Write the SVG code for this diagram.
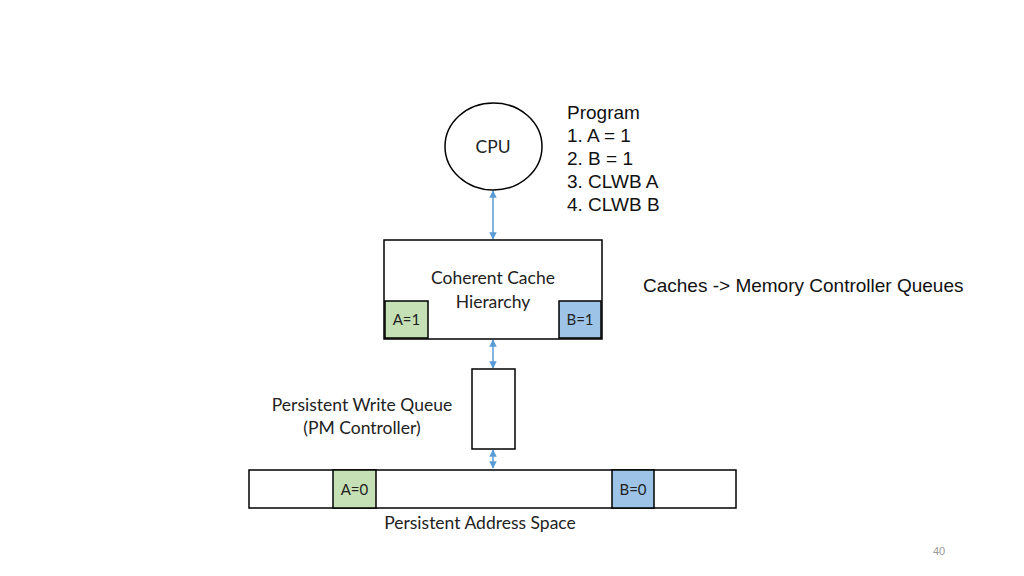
<svg xmlns="http://www.w3.org/2000/svg" width="1024" height="576" viewBox="0 0 1024 576">
<style>
.box{fill:#fff;stroke:#000;stroke-width:1.5}
.g{fill:#c5e0b4;stroke:#000;stroke-width:1.5}
.b{fill:#9dc3e6;stroke:#000;stroke-width:1.5}
.c{font-family:Lato,"Open Sans",sans-serif;font-size:17.5px;fill:#222}
.s{font-size:15px}
.a{font-family:"Liberation Sans",Arial,sans-serif;font-size:19px;fill:#111}
.conn{stroke:#5b9bd5;stroke-width:1.5;fill:none;marker-start:url(#ah);marker-end:url(#ah)}
</style>
<defs>
<marker id="ah" viewBox="0 0 10 10" refX="9" refY="5" markerWidth="5" markerHeight="5" orient="auto-start-reverse">
<path d="M0,0 L10,5 L0,10 z" fill="#5b9bd5"/>
</marker>
</defs>
<rect width="1024" height="576" fill="#fff"/>
<g id="connectors">
<line class="conn" x1="493" y1="191" x2="493" y2="239"/>
<line class="conn" x1="493" y1="340" x2="493" y2="368"/>
<line class="conn" x1="493" y1="450" x2="493" y2="468"/>
</g>
<g id="cpu">
<ellipse cx="493.5" cy="146.5" rx="48.5" ry="43.5" class="box"/>
<text x="493" y="153" text-anchor="middle" class="c">CPU</text>
</g>
<g id="program">
<text class="a" x="567" y="119">Program</text>
<text class="a" x="567" y="142">1. A = 1</text>
<text class="a" x="567" y="165">2. B = 1</text>
<text class="a" x="567" y="188">3. CLWB A</text>
<text class="a" x="567" y="211">4. CLWB B</text>
</g>
<g id="cache">
<rect x="384" y="240" width="218" height="99" class="box"/>
<text x="493" y="284" text-anchor="middle" class="c">Coherent Cache</text>
<text x="493" y="308" text-anchor="middle" class="c">Hierarchy</text>
</g>
<g id="cacheA">
<rect x="385" y="301" width="43" height="37" class="g"/>
<text x="406.5" y="325" text-anchor="middle" class="c s">A=1</text>
</g>
<g id="cacheB">
<rect x="559" y="301" width="42" height="37" class="b"/>
<text x="580" y="325" text-anchor="middle" class="c s">B=1</text>
</g>
<g id="note">
<text class="a" x="643" y="292">Caches -&gt; Memory Controller Queues</text>
</g>
<g id="queue">
<rect x="472" y="369" width="43" height="80" class="box"/>
<text x="362" y="411" text-anchor="middle" class="c">Persistent Write Queue</text>
<text x="362" y="434" text-anchor="middle" class="c">(PM Controller)</text>
</g>
<g id="pmem">
<rect x="249" y="470" width="487" height="38" class="box"/>
<text x="480" y="529" text-anchor="middle" class="c">Persistent Address Space</text>
</g>
<g id="pmemA">
<rect x="333" y="470" width="43" height="38" class="g"/>
<text x="354.5" y="495" text-anchor="middle" class="c s">A=0</text>
</g>
<g id="pmemB">
<rect x="612" y="470" width="42" height="38" class="b"/>
<text x="633" y="495" text-anchor="middle" class="c s">B=0</text>
</g>
<g id="page">
<text x="939" y="555" text-anchor="middle" font-family="'Liberation Sans',sans-serif" font-size="11" fill="#999">40</text>
</g>
</svg>
